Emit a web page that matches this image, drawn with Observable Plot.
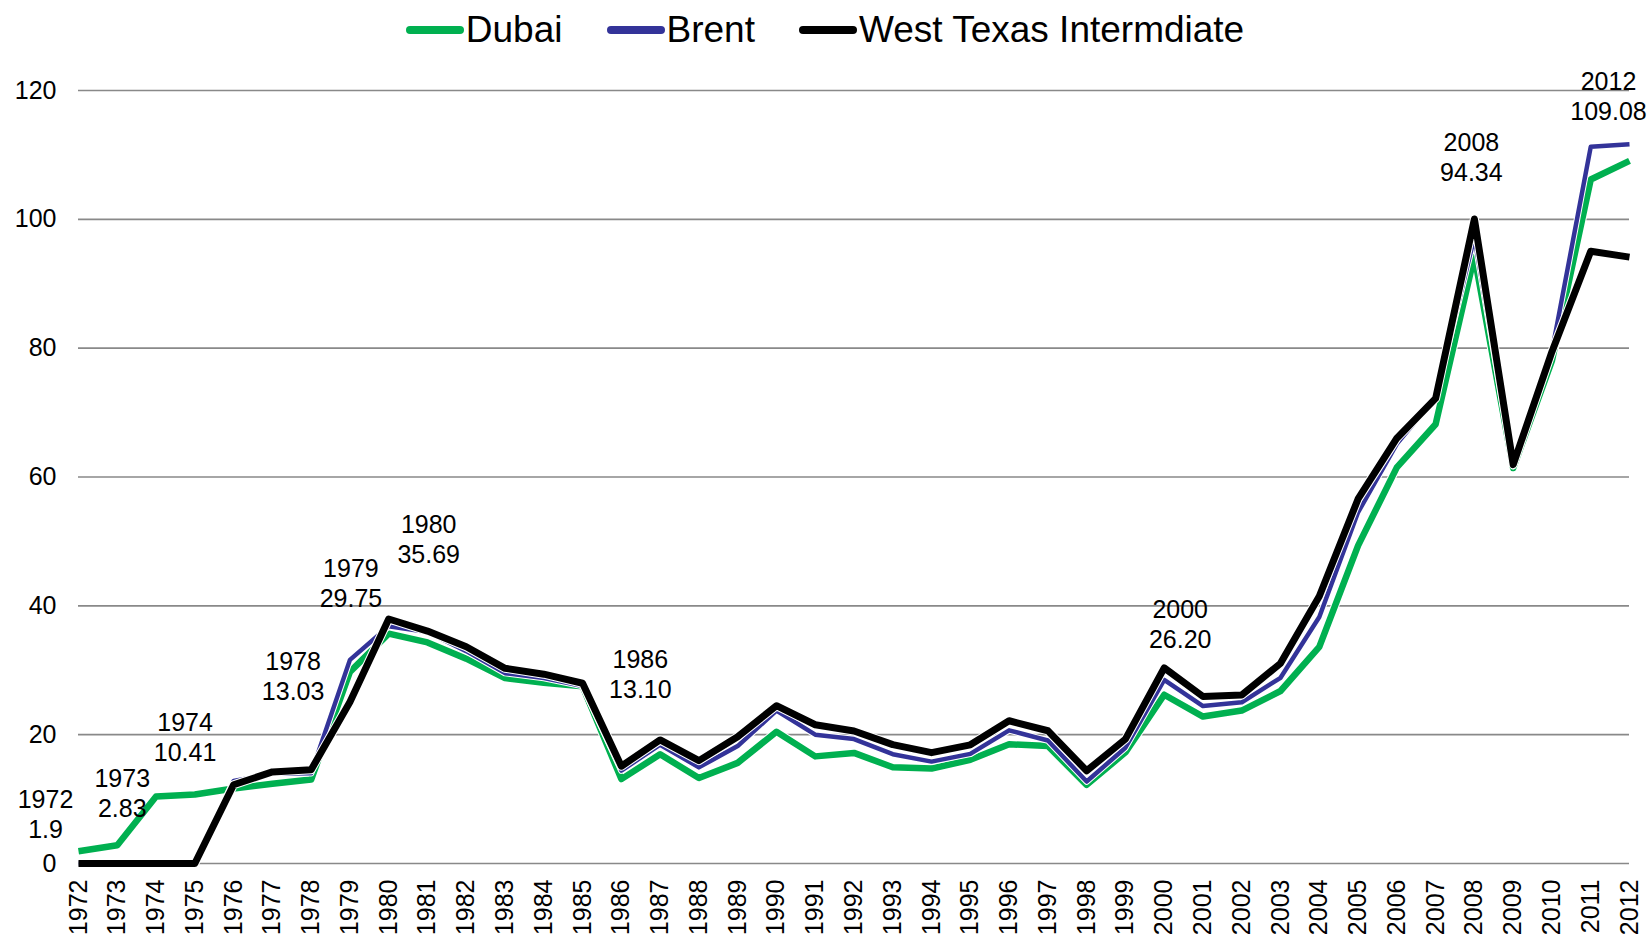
<!DOCTYPE html>
<html>
<head>
<meta charset="utf-8">
<script src="https://cdn.jsdelivr.net/npm/d3@7"></script>
<script src="https://cdn.jsdelivr.net/npm/@observablehq/plot@0.6"></script>
<style>
  html, body { margin: 0; padding: 0; background: #fff; overflow: hidden; }
  body { width: 1650px; height: 939px; font-family: "Liberation Sans", Arial, sans-serif; }
  #legend { height: 60px; display: flex; justify-content: center; align-items: center; font-size: 37px; color: #000; }
  .item { display: flex; align-items: center; margin: 0 22px; }
  .sw { width: 58px; height: 8px; border-radius: 4px; margin-right: 2px; }
  #chart svg { display: block; overflow: visible; }
</style>
</head>
<body>
<div id="legend"></div>
<div id="chart"></div>
<script>
// ---- data ----
const years = [1972,1973,1974,1975,1976,1977,1978,1979,1980,1981,1982,1983,1984,1985,1986,1987,1988,1989,1990,1991,1992,1993,1994,1995,1996,1997,1998,1999,2000,2001,2002,2003,2004,2005,2006,2007,2008,2009,2010,2011,2012];
const dubai = [1.90,2.83,10.41,10.70,11.63,12.38,13.03,29.75,35.69,34.32,31.80,28.78,28.06,27.53,13.10,16.95,13.27,15.62,20.45,16.63,17.17,14.93,14.74,16.10,18.52,18.23,12.21,17.25,26.20,22.81,23.74,26.78,33.64,49.35,61.50,68.19,94.34,61.39,78.06,106.18,109.08];
const brent = [0,0,0,0,12.80,13.92,14.02,31.61,36.83,35.93,32.97,29.55,28.78,27.56,14.43,18.44,14.92,18.23,23.73,20.00,19.32,16.97,15.82,17.02,20.67,19.09,12.72,17.97,28.50,24.44,25.02,28.83,38.27,54.52,65.14,72.39,97.26,61.67,79.50,111.26,111.67];
const wti = [0,0,0,0,12.23,14.22,14.55,25.08,37.96,36.08,33.65,30.30,29.39,27.98,15.10,19.18,15.97,19.68,24.50,21.54,20.57,18.45,17.21,18.42,22.16,20.61,14.39,19.31,30.37,25.93,26.16,31.07,41.49,56.59,66.02,72.20,100.06,61.92,79.45,95.04,94.13];
const seriesNames = ["Dubai", "Brent", "West Texas Intermdiate"];
const yTicks = [0,20,40,60,80,100,120];
const labelYears = [1972,1973,1974,1978,1979,1980,1986,2000,2008,2012];
const labelTexts = ["1.9","2.83","10.41","13.03","29.75","35.69","13.10","26.20","94.34","109.08"];

// ---- styling / layout ----
const colors = ["#00B050", "#333399", "#000000"];
const widths = [6.5, 4.5, 7];
const seriesValues = [dubai, brent, wti];
const nudges = {
  1972: [-33, -38], 1973: [5, -53], 1974: [29, -60], 1978: [-18, -104],
  1979: [1, -89], 1980: [40, -95], 1986: [19, -106], 2000: [16, -71],
  2008: [-3, -99], 2012: [-21, -65]
};

// legend
const legend = document.getElementById("legend");
seriesNames.forEach((name, i) => {
  const it = document.createElement("div");
  it.className = "item";
  const sw = document.createElement("div");
  sw.className = "sw";
  sw.style.background = colors[i];
  const tx = document.createElement("span");
  tx.textContent = name;
  it.appendChild(sw); it.appendChild(tx);
  legend.appendChild(it);
});

const lineMarks = [];
seriesValues.forEach((vals, i) => {
  const rows = vals.map((v, j) => ({year: years[j], value: v}));
  lineMarks.push(Plot.line(rows, {x: "year", y: "value", stroke: "#fff", strokeWidth: widths[i] + 2, strokeLinejoin: "round", strokeLinecap: "butt"}));
  lineMarks.push(Plot.line(rows, {x: "year", y: "value", stroke: colors[i], strokeWidth: widths[i], strokeLinejoin: "round", strokeLinecap: "butt"}));
});

const labelMarks = labelYears.map((yr, k) => {
  const idx = years.indexOf(yr);
  const [dx, dy] = nudges[yr];
  return Plot.text([{year: yr, value: dubai[idx], t: yr + "\n" + labelTexts[k]}], {
    x: "year", y: "value", text: "t", dx, dy,
    lineAnchor: "middle", lineHeight: 1.2, fontSize: 25, fill: "#000", textAnchor: "middle"
  });
});

const chart = Plot.plot({
  width: 1650,
  height: 879,
  marginLeft: 78,
  marginRight: 21,
  marginTop: 30,
  marginBottom: 76,
  style: {fontFamily: "'Liberation Sans', Arial, sans-serif", color: "#000", background: "#fff", overflow: "visible"},
  x: {type: "linear", domain: [1972, 2012]},
  y: {domain: [0, 120]},
  marks: [
    Plot.ruleY(yTicks, {stroke: "#898989", strokeWidth: 1.6}),
    Plot.axisY({ticks: yTicks, tickSize: 0, tickPadding: 22, fontSize: 25, label: null, tickFormat: d => String(d)}),
    Plot.axisX({ticks: years, tickSize: 0, tickPadding: 16, tickRotate: -90, fontSize: 25, label: null, tickFormat: d => String(d)}),
    ...lineMarks,
    ...labelMarks
  ]
});
document.getElementById("chart").appendChild(chart);
</script>
</body>
</html>
